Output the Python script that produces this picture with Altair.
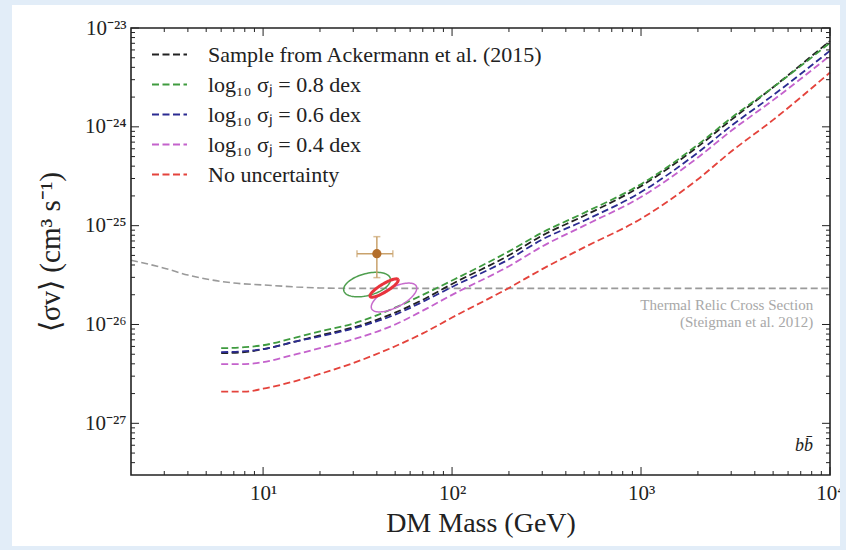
import altair as alt
import numpy as np
import pandas as pd

# DM masses (GeV) at which the limit curves are sampled
mass = [6, 8, 10, 15, 20, 30, 50, 70, 100, 200, 300, 500, 1000, 2000, 3000, 5000, 10000]

# log10 <sigma v> upper limits (cm^3 s^-1) for each curve
log_sv_ackermann = [-26.29, -26.28, -26.25, -26.17, -26.11, -26.03, -25.88, -25.75, -25.59,
                    -25.30, -25.10, -24.90, -24.60, -24.20, -23.93, -23.60, -23.13]
log_sv_08 = [-26.24, -26.23, -26.21, -26.13, -26.07, -25.99, -25.83, -25.70, -25.555,
             -25.26, -25.07, -24.87, -24.58, -24.18, -23.91, -23.60, -23.15]
log_sv_06 = [-26.28, -26.27, -26.25, -26.17, -26.12, -26.04, -25.90, -25.77, -25.62,
             -25.34, -25.14, -24.95, -24.66, -24.26, -23.99, -23.68, -23.23]
log_sv_04 = [-26.40, -26.40, -26.38, -26.30, -26.24, -26.15, -26.00, -25.86, -25.70,
             -25.41, -25.21, -25.00, -24.71, -24.31, -24.04, -23.73, -23.28]
log_sv_none = [-26.68, -26.68, -26.65, -26.57, -26.50, -26.39, -26.22, -26.09, -25.93,
               -25.63, -25.44, -25.22, -24.93, -24.53, -24.25, -23.93, -23.45]

series_names = [
    "Sample from Ackermann et al. (2015)",
    "log₁₀ σⱼ = 0.8 dex",
    "log₁₀ σⱼ = 0.6 dex",
    "log₁₀ σⱼ = 0.4 dex",
    "No uncertainty",
]
series_colors = ["#222222", "#3f9b3f", "#2b2b92", "#c462cc", "#e4433c"]
series_values = [log_sv_ackermann, log_sv_08, log_sv_06, log_sv_04, log_sv_none]

# Thermal relic cross section (Steigman et al. 2012)
thermal_mass = [2, 3, 4, 5, 7, 10, 15, 20, 30, 50, 100, 1000, 10000]
thermal_log_sv = [-25.35, -25.43, -25.50, -25.54, -25.58, -25.60, -25.62, -25.63,
                  -25.635, -25.635, -25.635, -25.635, -25.635]

# Best-fit point with 1-sigma error bars
point_mass = [40.0]
point_mass_lo = [31.4]
point_mass_hi = [48.6]
point_sv = [5.2e-26]
point_sv_lo = [2.98e-26]
point_sv_hi = [7.74e-26]

# Confidence ellipses in log-log space: centre and two conjugate semi-axes (dex)
ellipse_colors = ["#4f9f4f", "#c86ccc", "#e8343c"]
ellipse_widths = [1.5, 1.5, 3.0]
ellipse_center_mass = [35.5, 49.3, 43.7]
ellipse_center_log_sv = [-25.596, -25.727, -25.631]
ellipse_axis_a = [(0.123, 0.063), (0.118, 0.115), (0.074, 0.086)]
ellipse_axis_b = [(0.015, -0.107), (0.024, -0.090), (0.011, -0.035)]

# Axis ticks and labels
x_major = [10, 100, 1000, 10000]
x_major_labels = ["10¹", "10²", "10³", "10⁴"]
y_major = [1e-27, 1e-26, 1e-25, 1e-24, 1e-23]
y_major_labels = ["10⁻²⁷", "10⁻²⁶", "10⁻²⁵", "10⁻²⁴", "10⁻²³"]

X_MIN, X_MAX = 2, 1e4
Y_MIN, Y_MAX = 3e-28, 1e-23
x_minor = [k * 10 ** e for e in range(0, 4) for k in range(2, 10) if X_MIN < k * 10 ** e < X_MAX]
y_minor = [k * 10.0 ** e for e in range(-28, -23) for k in range(2, 10) if Y_MIN < k * 10.0 ** e < Y_MAX]

W, H = 699, 447
PAD_L, PAD_T, PAD_R, PAD_B = 131, 28, 16, 75
SERIF = "Liberation Serif"
INK = "#222222"
PAGE = "#e2edf8"

xs = alt.Scale(type="log", domain=[X_MIN, X_MAX], nice=False)
ys = alt.Scale(type="log", domain=[Y_MIN, Y_MAX], nice=False)


def label_expr(values, labels):
    expr = "''"
    for v, lab in zip(values, labels):
        e = int(round(np.log10(v)))
        expr = f"round(log(datum.value)/LN10) == {e} ? '{lab}' : ({expr})"
    return expr


x_axis = alt.Axis(
    values=x_major, labelExpr=label_expr(x_major, x_major_labels),
    ticks=False, domain=False, grid=False, labelOverlap=False, labelFlush=False,
    labelFont=SERIF, labelFontSize=21, labelColor=INK, labelPadding=7,
    title="DM Mass (GeV)", titleFont=SERIF, titleFontSize=28, titleFontWeight="normal",
    titleColor=INK, titlePadding=6,
)
y_axis = alt.Axis(
    values=y_major, labelExpr=label_expr(y_major, y_major_labels),
    ticks=False, domain=False, grid=False, labelOverlap=False, labelFlush=False,
    labelFont=SERIF, labelFontSize=21, labelColor=INK, labelPadding=5,
    title="⟨σv⟩  (cm³ s⁻¹)", titleFont=SERIF, titleFontSize=29, titleFontWeight="normal",
    titleColor=INK, titlePadding=19,
)


def X(field):
    return alt.X(f"{field}:Q", scale=xs, axis=x_axis)


def Y(field):
    return alt.Y(f"{field}:Q", scale=ys, axis=y_axis)


one_row = pd.DataFrame({"k": [0]})

# thermal relic line
thermal_df = pd.DataFrame({"m": thermal_mass, "sv": [10 ** v for v in thermal_log_sv]})
thermal = alt.Chart(thermal_df).mark_line(
    color="#9a9a9a", strokeDash=[7, 3.5], strokeWidth=1.6, interpolate="monotone"
).encode(x=X("m"), y=Y("sv"))

# limit curves
rows = []
for name, vals in zip(series_names, series_values):
    for i, (m, lv) in enumerate(zip(mass, vals)):
        rows.append({"m": m, "sv": 10 ** lv, "series": name, "i": i})
curves_df = pd.DataFrame(rows)

curves = alt.Chart(curves_df).mark_line(
    strokeDash=[7, 3.5], strokeWidth=1.8, interpolate="monotone"
).encode(
    x=X("m"),
    y=Y("sv"),
    color=alt.Color(
        "series:N",
        scale=alt.Scale(domain=series_names, range=series_colors),
        sort=series_names,
        legend=alt.Legend(
            title=None, orient="none", legendX=20, legendY=8, padding=0,
            symbolType="stroke", symbolSize=1225, symbolStrokeWidth=1.8,
            symbolDash=[7, 3.5], labelFont=SERIF, labelFontSize=22,
            labelColor=INK, labelOffset=20, rowPadding=0, labelLimit=500,
        ),
    ),
    order="i:Q",
)

# confidence ellipses
t = np.linspace(0, 2 * np.pi, 91)
ellipse_layers = []
for c, w, cm, cs, a, b in zip(ellipse_colors, ellipse_widths, ellipse_center_mass,
                              ellipse_center_log_sv, ellipse_axis_a, ellipse_axis_b):
    lm = np.log10(cm) + a[0] * np.cos(t) + b[0] * np.sin(t)
    ls = cs + a[1] * np.cos(t) + b[1] * np.sin(t)
    edf = pd.DataFrame({"m": 10 ** lm, "sv": 10 ** ls, "i": np.arange(len(t))})
    ellipse_layers.append(
        alt.Chart(edf).mark_line(color=c, strokeWidth=w).encode(
            x=X("m"), y=Y("sv"), order="i:Q"
        )
    )

pt_df = pd.DataFrame({"m": point_mass, "m_lo": point_mass_lo, "m_hi": point_mass_hi,
                      "sv": point_sv, "sv_lo": point_sv_lo, "sv_hi": point_sv_hi})
EB = "#c9a26c"
err_h = alt.Chart(pt_df).mark_rule(color=EB, strokeWidth=1.5).encode(
    x=X("m_lo"), x2="m_hi:Q", y=Y("sv"))
err_v = alt.Chart(pt_df).mark_rule(color=EB, strokeWidth=1.5).encode(
    x=X("m"), y=Y("sv_lo"), y2="sv_hi:Q")
caps_v = alt.Chart(pt_df).transform_fold(["sv_lo", "sv_hi"], as_=["end", "sv_end"]).mark_tick(
    color=EB, orient="horizontal", size=7, thickness=1.5).encode(x=X("m"), y=Y("sv_end"))
caps_h = alt.Chart(pt_df).transform_fold(["m_lo", "m_hi"], as_=["end", "m_end"]).mark_tick(
    color=EB, orient="vertical", size=7, thickness=1.5).encode(x=X("m_end"), y=Y("sv"))
point = alt.Chart(pt_df).mark_circle(color="#b46f2c", size=85, opacity=1).encode(
    x=X("m"), y=Y("sv"))

# annotations
note_df = pd.DataFrame({
    "m": [8150, 8150],
    "sv": [1.59e-26, 1.07e-26],
    "text": ["Thermal Relic Cross Section", "(Steigman et al. 2012)"],
})
notes = alt.Chart(note_df).mark_text(
    align="right", baseline="middle", font=SERIF, fontSize=15, color="#a8a8a8"
).encode(x=X("m"), y=Y("sv"), text="text:N")

channel_df = pd.DataFrame({"m": [7280], "sv": [5.86e-28], "text": ["bb̄"]})
channel = alt.Chart(channel_df).mark_text(
    align="center", baseline="middle", font=SERIF, fontSize=18, fontStyle="italic", color=INK
).encode(x=X("m"), y=Y("sv"), text="text:N")

# inward ticks on all four sides
tick_layers = []
for vals, length in ((x_major, 8), (x_minor, 4)):
    tdf = pd.DataFrame({"m": vals})
    for y0, y1 in ((H, H - length), (0, length)):
        tick_layers.append(alt.Chart(tdf).mark_rule(color=INK, strokeWidth=1).encode(
            x=X("m"), y=alt.value(y0), y2=alt.value(y1)))
for vals, length in ((y_major, 8), (y_minor, 4)):
    tdf = pd.DataFrame({"sv": vals})
    for x0, x1 in ((0, length), (W, W - length)):
        tick_layers.append(alt.Chart(tdf).mark_rule(color=INK, strokeWidth=1).encode(
            y=Y("sv"), x=alt.value(x0), x2=alt.value(x1)))

frame = alt.Chart(one_row).mark_rect(fillOpacity=0, stroke=INK, strokeWidth=1.6).encode(
    x=alt.value(0), x2=alt.value(W), y=alt.value(0), y2=alt.value(H))

# light page border around the white figure
border_boxes = [
    (-PAD_L, 12 - PAD_L, -PAD_T, H + PAD_B),              # left
    (840 - PAD_L, W + PAD_R, -PAD_T, H + PAD_B),          # right
    (-PAD_L, W + PAD_R, -PAD_T, 5 - PAD_T),               # top
    (-PAD_L, W + PAD_R, 546 - PAD_T, H + PAD_B),          # bottom
]
border_layers = [
    alt.Chart(one_row).mark_rect(color=PAGE).encode(
        x=alt.value(x0), x2=alt.value(x1), y=alt.value(y0), y2=alt.value(y1))
    for x0, x1, y0, y1 in border_boxes
]

chart = alt.layer(
    thermal, curves, *ellipse_layers, err_h, err_v, caps_v, caps_h, point,
    notes, channel, *tick_layers, frame, *border_layers,
).properties(
    width=W, height=H,
    padding={"left": PAD_L, "top": PAD_T, "right": PAD_R, "bottom": PAD_B},
    autosize=alt.AutoSizeParams(type="none"),
).configure(background="white").configure_view(stroke=None)

chart.save("out.html", embed_options={"renderer": "svg", "actions": False})
